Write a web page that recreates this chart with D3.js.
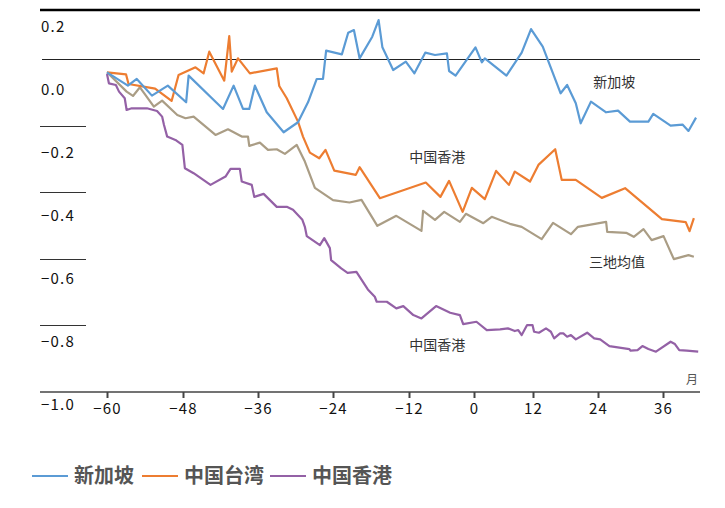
<!DOCTYPE html>
<html>
<head>
<meta charset="utf-8">
<script src="https://cdn.jsdelivr.net/npm/d3@7/dist/d3.min.js"></script>
<style>
  body { margin: 0; background: #fff; }
  svg { display: block; }
</style>
</head>
<body>
<svg id="chart"></svg>
<script>
// Valori: [mese, variazione]
const xTickValues = [-60, -48, -36, -24, -12, 0, 12, 24, 36];
const yTickValues = [0.2, 0.0, -0.2, -0.4, -0.6, -0.8, -1.0];
const seriesNames = ["新加坡", "中国台湾", "中国香港"];

const singapore = [[-60,-0.04],[-56.7,-0.08],[-55.3,-0.06],[-52.9,-0.11],[-50.4,-0.08],[-47.5,-0.13],[-47.1,-0.05],
  [-41.6,-0.15],[-39.9,-0.08],[-38.4,-0.15],[-37.4,-0.15],[-36.5,-0.08],[-34.6,-0.16],[-31.9,-0.22],[-29.6,-0.19],
  [-28,-0.13],[-26.6,-0.06],[-25.6,-0.06],[-25.1,0.025],[-22.6,0.014],[-21.6,0.079],[-20.7,0.087],[-19.8,0.002],
  [-17.8,0.067],[-16.8,0.117],[-16.2,0.035],[-14.5,-0.033],[-12.5,-0.008],[-11,-0.043],[-9,0.019],[-7.2,0.012],
  [-5,0.017],[-4.6,-0.036],[-3.4,-0.05],[0.3,0.035],[1.6,-0.01],[2.2,0.002],[6.6,-0.05],[9.7,0.019],[11.6,0.09],
  [13.8,0.037],[17.1,-0.103],[18.3,-0.078],[19.9,-0.133],[20.8,-0.193],[22.7,-0.128],[25.5,-0.16],[27.7,-0.155],
  [29.9,-0.188],[33.3,-0.188],[34.2,-0.165],[37.4,-0.2],[39.6,-0.197],[40.7,-0.216],[42.1,-0.176]];

const taiwan = [[-60,-0.04],[-57,-0.046],[-56.6,-0.075],[-52.4,-0.089],[-49.8,-0.126],[-48.7,-0.048],[-46,-0.025],
  [-44.7,-0.043],[-43.8,0.022],[-41.4,-0.065],[-40.6,0.069],[-40.2,-0.038],[-39.2,0.002],[-37.3,-0.043],[-33,-0.028],
  [-32.6,-0.081],[-31.4,-0.118],[-29.6,-0.188],[-28.8,-0.233],[-27.7,-0.281],[-26.2,-0.298],[-25.2,-0.273],
  [-23.8,-0.335],[-20.4,-0.348],[-19.8,-0.325],[-16.6,-0.418],[-8.9,-0.371],[-6.2,-0.414],[-4.6,-0.366],
  [-2.1,-0.459],[-0.4,-0.387],[2.2,-0.421],[4.5,-0.336],[7.1,-0.378],[8.3,-0.338],[11.4,-0.368],[13,-0.318],
  [16.1,-0.271],[17.3,-0.363],[19.9,-0.363],[24.7,-0.417],[29,-0.388],[35.8,-0.481],[40.2,-0.49],[40.9,-0.517],
  [41.7,-0.478]];

const hongkong = [[-60,-0.045],[-59.7,-0.073],[-58.6,-0.078],[-58.1,-0.098],[-57.2,-0.118],[-56.9,-0.153],
  [-56.1,-0.148],[-53.7,-0.148],[-52.1,-0.156],[-51.3,-0.173],[-51,-0.198],[-50.9,-0.205],[-50.5,-0.233],
  [-49.2,-0.243],[-48.1,-0.258],[-47.7,-0.328],[-46.3,-0.343],[-43.6,-0.378],[-41.2,-0.353],[-40.4,-0.33],
  [-38.9,-0.33],[-38.6,-0.368],[-37,-0.378],[-36.6,-0.414],[-35.1,-0.405],[-33,-0.444],[-31.4,-0.444],
  [-30.4,-0.453],[-28.9,-0.483],[-28.5,-0.504],[-28.2,-0.532],[-26.1,-0.559],[-25.4,-0.538],[-24.5,-0.568],
  [-24.3,-0.604],[-22.7,-0.629],[-21.7,-0.642],[-20.3,-0.639],[-18.5,-0.692],[-17.4,-0.714],[-17.1,-0.729],
  [-15.5,-0.729],[-14,-0.749],[-12.9,-0.742],[-11.2,-0.769],[-9.7,-0.779],[-7,-0.742],[-4.4,-0.762],
  [-2.6,-0.769],[-2,-0.796],[0.5,-0.789],[2.6,-0.814],[5.3,-0.812],[6.9,-0.809],[8.3,-0.817],[9,-0.814],
  [9.7,-0.829],[10.8,-0.799],[11.9,-0.799],[12.2,-0.819],[13.1,-0.822],[14.4,-0.809],[15.3,-0.819],
  [15.9,-0.839],[17,-0.824],[17.6,-0.824],[18.3,-0.834],[19,-0.829],[19.9,-0.842],[22,-0.822],[23.3,-0.839],
  [24.4,-0.842],[26.1,-0.862],[29.8,-0.871],[30,-0.876],[31.3,-0.874],[32.2,-0.862],[33.3,-0.871],
  [34.7,-0.879],[37.4,-0.849],[38.2,-0.856],[39,-0.874],[40.4,-0.876],[42.5,-0.879]];

const average = [[-60,-0.04],[-56.9,-0.098],[-55.9,-0.111],[-54.8,-0.085],[-52.6,-0.143],[-51.3,-0.125],
  [-48.9,-0.168],[-47.6,-0.178],[-46.3,-0.173],[-42.8,-0.228],[-40.8,-0.211],[-38.6,-0.233],[-37.6,-0.233],
  [-37.4,-0.261],[-35.7,-0.251],[-34.4,-0.273],[-33,-0.271],[-31.7,-0.285],[-29.8,-0.258],[-28.5,-0.308],
  [-26.9,-0.387],[-24,-0.424],[-21.4,-0.431],[-19.5,-0.423],[-17,-0.501],[-14,-0.471],[-9.7,-0.516],
  [-9.4,-0.456],[-7.2,-0.483],[-5.5,-0.459],[-2.6,-0.489],[-1.5,-0.465],[1.9,-0.493],[3.6,-0.474],
  [7.3,-0.495],[9.7,-0.504],[13.6,-0.541],[15.7,-0.492],[19,-0.526],[20.3,-0.504],[25.5,-0.489],
  [25.7,-0.519],[29.2,-0.522],[30.6,-0.534],[32.4,-0.511],[33.9,-0.544],[36.1,-0.532],[38,-0.601],
  [40.7,-0.589],[41.7,-0.594]];

// Etichette dentro il grafico: [testo, mese, valore]
const annotations = [["新加坡", 27, -0.07], ["中国香港", -6.8, -0.295], ["三地均值", 27.5, -0.61], ["中国香港", -6.8, -0.86]];

const W = 725, H = 508;
const colors = { sg: "#5b9bd5", tw: "#ed7d31", hk: "#9461a6", avg: "#aa9d85" };
const font = "'Noto Sans CJK SC', 'Noto Sans', sans-serif";

const svg = d3.select("#chart").attr("width", W).attr("height", H);

// asse x non uniforme come nell'originale
const x = d3.scaleLinear()
  .domain(xTickValues)
  .range([107, 183, 258, 333, 409, 474, 533, 598, 663]);
const y = d3.scaleLinear().domain([-1, 0]).range([392, 59]);
// le etichette dell'asse y non coincidono con le linee
const yLabel = d3.scaleLinear().domain([-1, 0.2]).range([405, 27]);

const fmt = v => d3.format(".1f")(v).replace("-", "−");
// mezzo pixel per linee nitide
const crisp = v => Math.round(v) + 0.5;

// linea spessa in alto
svg.append("line")
  .attr("x1", 40).attr("x2", 700).attr("y1", 10).attr("y2", 10)
  .attr("stroke", "#000").attr("stroke-width", 2.5);

// linea dello zero
svg.append("line")
  .attr("x1", 42).attr("x2", 700).attr("y1", crisp(y(0))).attr("y2", crisp(y(0)))
  .attr("stroke", "#222").attr("stroke-width", 1);

// tratti corti a sinistra
svg.selectAll(".short")
  .data([-0.2, -0.4, -0.6, -0.8])
  .enter().append("line")
  .attr("class", "short")
  .attr("x1", 40).attr("x2", 86)
  .attr("y1", d => crisp(y(d))).attr("y2", d => crisp(y(d)))
  .attr("stroke", "#333").attr("stroke-width", 1);

// etichette y
svg.selectAll(".ylab")
  .data(yTickValues)
  .enter().append("text")
  .attr("class", "ylab")
  .attr("x", 41).attr("y", d => yLabel(d))
  .attr("dy", "0.35em")
  .attr("font-family", font).attr("font-size", 15)
  .attr("letter-spacing", 1.2)
  .attr("fill", "#111")
  .text(d => fmt(d));

// asse x
svg.append("line")
  .attr("x1", 40).attr("x2", 700).attr("y1", y(-1)).attr("y2", y(-1))
  .attr("stroke", "#444").attr("stroke-width", 1.5);

const xAxis = svg.append("g")
  .attr("transform", "translate(0," + y(-1) + ")")
  .call(d3.axisBottom(x).tickValues(xTickValues).tickSize(6).tickPadding(5).tickFormat(d => String(d).replace("-", "−")));
xAxis.select(".domain").remove();
xAxis.selectAll(".tick line").attr("stroke", "#444").attr("stroke-width", 2);
xAxis.selectAll(".tick text")
  .attr("font-family", font).attr("font-size", 15)
  .attr("letter-spacing", 1.2)
  .attr("fill", "#111");

svg.append("text")
  .attr("x", 692).attr("y", 380).attr("dy", "0.35em")
  .attr("text-anchor", "middle")
  .attr("font-family", font).attr("font-size", 12)
  .attr("fill", "#555")
  .text("月");

// linee delle serie
const line = d3.line().x(d => x(d[0])).y(d => y(d[1]));
const series = [
  { data: average, color: colors.avg },
  { data: hongkong, color: colors.hk },
  { data: taiwan, color: colors.tw },
  { data: singapore, color: colors.sg }
];
series.forEach(s => {
  svg.append("path")
    .attr("d", line(s.data))
    .attr("fill", "none")
    .attr("stroke", s.color)
    .attr("stroke-width", 2.2)
    .attr("stroke-linejoin", "round");
});

// annotazioni
svg.selectAll(".ann")
  .data(annotations)
  .enter().append("text")
  .attr("class", "ann")
  .attr("x", d => x(d[1])).attr("y", d => y(d[2]))
  .attr("dy", "0.35em")
  .attr("text-anchor", "middle")
  .attr("font-family", font).attr("font-size", 14)
  .attr("fill", "#333")
  .text(d => d[0]);

// legenda
const legendColors = [colors.sg, colors.tw, colors.hk];
const legendX = [32, 142, 270];
const lg = svg.selectAll(".lg")
  .data(seriesNames)
  .enter().append("g")
  .attr("class", "lg")
  .attr("transform", (d, i) => "translate(" + legendX[i] + ",476)");
lg.append("line")
  .attr("x1", 0).attr("x2", 36).attr("y1", 0).attr("y2", 0)
  .attr("stroke", (d, i) => legendColors[i]).attr("stroke-width", 2);
lg.append("text")
  .attr("x", 42).attr("dy", "0.35em")
  .attr("font-family", font).attr("font-size", 20).attr("font-weight", "bold")
  .attr("fill", "#555")
  .text(d => d);
</script>
</body>
</html>
